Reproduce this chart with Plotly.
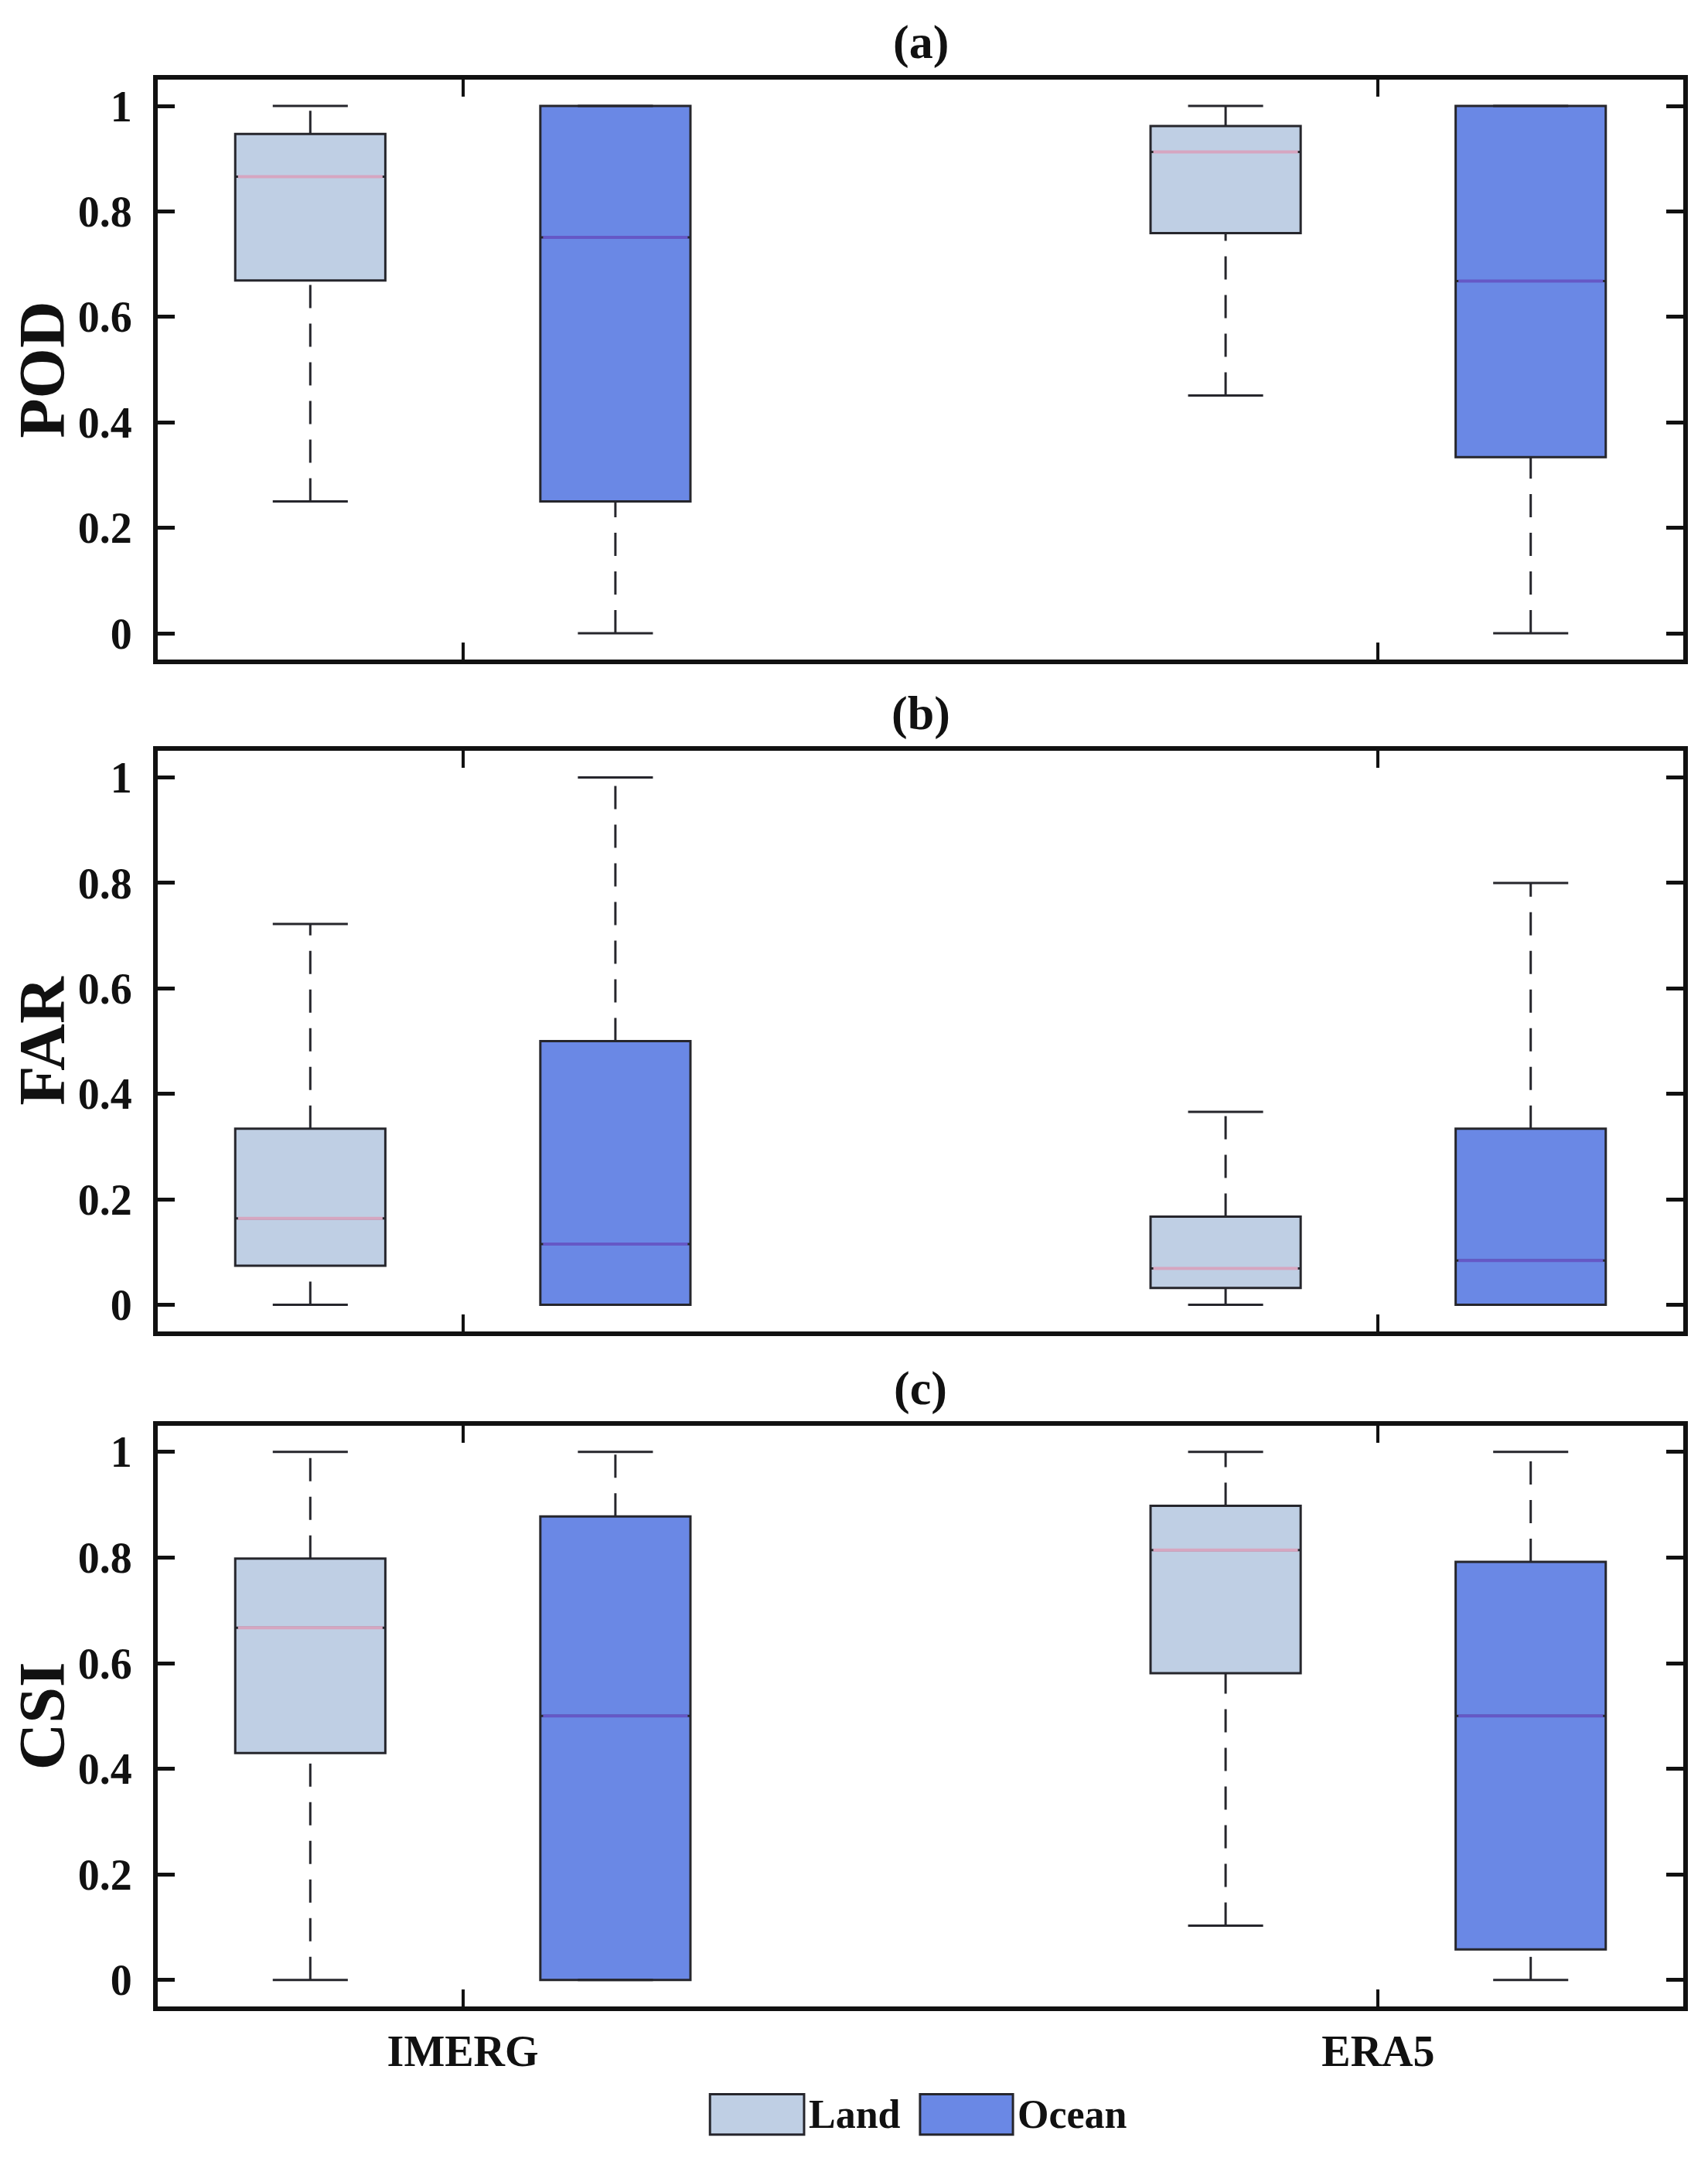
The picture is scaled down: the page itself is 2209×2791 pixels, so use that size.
import plotly.graph_objects as go
from plotly.subplots import make_subplots

products = ["IMERG", "ERA5"]
metrics = ["POD", "FAR", "CSI"]
panel_tags = ["(a)", "(b)", "(c)"]
surfaces = ["Land", "Ocean"]

# box statistics, one value per product (IMERG, ERA5)
pod_land_low = [0.25, 0.451]
pod_land_q1 = [0.669, 0.759]
pod_land_med = [0.866, 0.913]
pod_land_q3 = [0.947, 0.962]
pod_land_high = [1.0, 1.0]
pod_ocean_low = [0.0, 0.0]
pod_ocean_q1 = [0.25, 0.334]
pod_ocean_med = [0.751, 0.668]
pod_ocean_q3 = [1.0, 1.0]
pod_ocean_high = [1.0, 1.0]

far_land_low = [0.0, 0.0]
far_land_q1 = [0.074, 0.032]
far_land_med = [0.164, 0.069]
far_land_q3 = [0.334, 0.167]
far_land_high = [0.722, 0.366]
far_ocean_low = [0.0, 0.0]
far_ocean_q1 = [0.0, 0.0]
far_ocean_med = [0.115, 0.084]
far_ocean_q3 = [0.5, 0.334]
far_ocean_high = [1.0, 0.8]

csi_land_low = [0.0, 0.103]
csi_land_q1 = [0.43, 0.581]
csi_land_med = [0.667, 0.814]
csi_land_q3 = [0.798, 0.898]
csi_land_high = [1.0, 1.0]
csi_ocean_low = [0.0, 0.0]
csi_ocean_q1 = [0.0, 0.058]
csi_ocean_med = [0.5, 0.5]
csi_ocean_q3 = [0.878, 0.792]
csi_ocean_high = [1.0, 1.0]

stats = {
    ("POD", "Land"): (pod_land_low, pod_land_q1, pod_land_med, pod_land_q3, pod_land_high),
    ("POD", "Ocean"): (pod_ocean_low, pod_ocean_q1, pod_ocean_med, pod_ocean_q3, pod_ocean_high),
    ("FAR", "Land"): (far_land_low, far_land_q1, far_land_med, far_land_q3, far_land_high),
    ("FAR", "Ocean"): (far_ocean_low, far_ocean_q1, far_ocean_med, far_ocean_q3, far_ocean_high),
    ("CSI", "Land"): (csi_land_low, csi_land_q1, csi_land_med, csi_land_q3, csi_land_high),
    ("CSI", "Ocean"): (csi_ocean_low, csi_ocean_q1, csi_ocean_med, csi_ocean_q3, csi_ocean_high),
}

fill_colors = {"Land": "#bfcfe4", "Ocean": "#6a88e5"}
median_colors = {"Land": "#d6a6c0", "Ocean": "#6558c6"}
offsets = {"Land": -1 / 6, "Ocean": 1 / 6}
box_w = 0.164
cap_w = box_w / 4
edge = "#26262c"
font_family = "Liberation Serif, Times New Roman, serif"

fig = make_subplots(rows=3, cols=1)

for r, metric in enumerate(metrics, start=1):
    for s in surfaces:
        low, q1, med, q3, high = stats[(metric, s)]
        pos = [k + 1 + offsets[s] for k in range(len(products))]
        fig.add_trace(go.Box(
            x=pos, q1=q1, median=med, q3=q3, lowerfence=q1, upperfence=q3,
            width=box_w, fillcolor=fill_colors[s], line=dict(color=edge, width=3),
            boxpoints=False, whiskerwidth=0, showlegend=False, hoverinfo="skip"),
            row=r, col=1)
        # median line in its own colour
        mx, my = [], []
        for p, m in zip(pos, med):
            mx += [p - box_w / 2 + 0.003, p + box_w / 2 - 0.003, None]
            my += [m, m, None]
        fig.add_trace(go.Scatter(x=mx, y=my, mode="lines", line=dict(color=median_colors[s], width=4),
                                 showlegend=False, hoverinfo="skip"), row=r, col=1)
        # dashed whiskers
        wx, wy = [], []
        for p, lo, a, b, hi in zip(pos, low, q1, q3, high):
            if hi > b:
                wx += [p, p, None]
                wy += [b, hi, None]
            if lo < a:
                wx += [p, p, None]
                wy += [lo, a, None]
        fig.add_trace(go.Scatter(x=wx, y=wy, mode="lines", line=dict(color=edge, width=3, dash="30px,20px"),
                                 showlegend=False, hoverinfo="skip"), row=r, col=1)
        # whisker caps
        cx, cy = [], []
        for p, lo, hi in zip(pos, low, high):
            cx += [p - cap_w, p + cap_w, None, p - cap_w, p + cap_w, None]
            cy += [hi, hi, None, lo, lo, None]
        fig.add_trace(go.Scatter(x=cx, y=cy, mode="lines", line=dict(color=edge, width=3),
                                 showlegend=False, hoverinfo="skip"), row=r, col=1)

domains = [[0.699, 1.0], [0.3505, 0.6515], [0.0, 0.3015]]
tick_font = dict(family=font_family, size=56, color="#111111", weight="bold")
for r, metric in enumerate(metrics, start=1):
    fig.update_xaxes(range=[2 / 3, 7 / 3], tickvals=[1, 2], ticktext=products,
                     showticklabels=(r == 3), ticks="inside", ticklen=22, tickwidth=4,
                     tickcolor="#111111", showline=True, linewidth=6, linecolor="#111111",
                     mirror="allticks", showgrid=False, zeroline=False,
                     tickfont=tick_font, ticklabelstandoff=4, row=r, col=1)
    fig.update_yaxes(range=[-0.05, 1.05], tickvals=[0, 0.2, 0.4, 0.6, 0.8, 1],
                     ticktext=["0", "0.2", "0.4", "0.6", "0.8", "1"],
                     ticks="inside", ticklen=22, tickwidth=5, tickcolor="#111111",
                     showline=True, linewidth=6, linecolor="#111111", mirror="allticks",
                     showgrid=False, zeroline=False, tickfont=tick_font, ticklabelstandoff=16,
                     domain=domains[r - 1],
                     title=dict(text=metric, standoff=20,
                                font=dict(family=font_family, size=84, color="#111111", weight="bold")),
                     row=r, col=1)
    fig.add_annotation(text=panel_tags[r - 1], xref="paper", yref="paper", x=0.5, y=domains[r - 1][1],
                       yanchor="bottom", yshift=12, showarrow=False,
                       font=dict(family=font_family, size=62, color="#111111", weight="bold"))

# legend drawn below the bottom panel
legend_font = dict(family=font_family, size=52, color="#111111", weight="bold")
legend_items = [("Land", 0.362, 0.4237), ("Ocean", 0.4997, 0.5606)]
for name, x0, x1 in legend_items:
    fig.add_shape(type="rect", xref="paper", yref="paper", x0=x0, x1=x1, y0=-0.0665, y1=-0.0455,
                  fillcolor=fill_colors[name], line=dict(color=edge, width=3))
    fig.add_annotation(text=name, xref="paper", yref="paper", x=x1 + 0.002, y=-0.056,
                       xanchor="left", yanchor="middle", showarrow=False, font=legend_font)

fig.update_layout(
    width=2209, height=2791,
    margin=dict(l=196, r=40, t=95, b=204),
    plot_bgcolor="white", paper_bgcolor="white",
    showlegend=False,
)

fig.write_html("out.html")
